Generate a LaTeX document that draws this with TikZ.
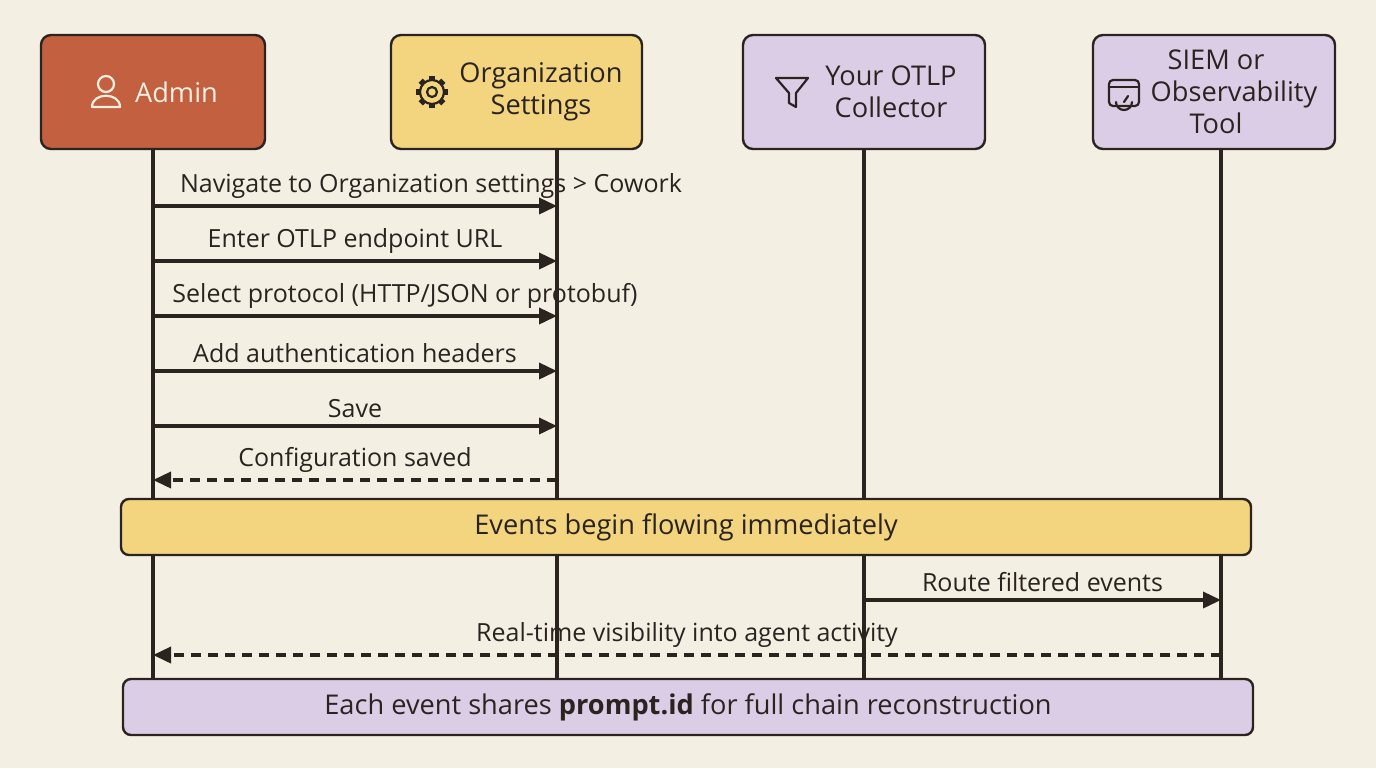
\documentclass[tikz,border=0pt]{standalone}
\usepackage{fontspec}
\setmainfont{Open Sans}
\usetikzlibrary{arrows.meta}
\definecolor{bgc}{HTML}{F3EFE3}
\definecolor{inkc}{HTML}{2B2320}
\definecolor{adminc}{HTML}{C2603F}
\definecolor{yelc}{HTML}{F2D57E}
\definecolor{purc}{HTML}{DCCDE6}
\tikzset{>={Triangle[length=9pt,width=8pt]}}
\tikzset{
  actor/.style={draw=inkc, line width=1.2pt, rounded corners=5pt, minimum width=#1, minimum height=57pt, align=center},
  life/.style={inkc, line width=1.8pt},
  msg/.style={->, inkc, line width=1.8pt},
  reply/.style={->, inkc, line width=1.8pt, dash pattern=on 5pt off 3.5pt},
  lbl/.style={above, font=\fontsize{12.5}{14}\selectfont, text=inkc, inner sep=3pt},
  band/.style={draw=inkc, line width=1.2pt, rounded corners=4pt, minimum width=565pt, minimum height=28pt, font=\fontsize{13.6}{15}\selectfont, text=inkc},
  ico/.style={inkc, line width=1.1pt, line join=round, line cap=round}
}
\begin{document}
\begin{tikzpicture}[x=0.5pt,y=-0.5pt]
  \fill[bgc] (0,0) rectangle (1376,768);
  \useasboundingbox (0,0) rectangle (1376,768);

  % Lifelines
  \foreach \x in {153,557,864,1221}
    \draw[life] (\x,149) -- (\x,680);

  % Actors
  \node[actor=112pt, fill=adminc] (admin) at (153,92) {};
  \node[actor=125.5pt, fill=yelc] (org) at (516.5,92) {};
  \node[actor=121pt, fill=purc] (coll) at (864,92) {};
  \node[actor=121pt, fill=purc] (siem) at (1214,92) {};

  \node[text=bgc, font=\fontsize{13.6}{15}\selectfont, anchor=west] (admintxt) at (128,92) {Admin};
  \node[align=center, font=\fontsize{13.6}{16}\selectfont, text=inkc] (orgtxt) at (541,92) {Organization\\Settings};
  \node[align=center, font=\fontsize{13.6}{16}\selectfont, text=inkc] (colltxt) at (891,92) {Your OTLP\\Collector};
  \node[align=center, font=\fontsize{13.6}{16}\selectfont, text=inkc] (siemtxt) at (1216,92) {SIEM or\\\hspace*{18pt}Observability\\Tool};

  % Icons
  \draw[ico, draw=bgc] (106,84) circle (8);
  \draw[ico, draw=bgc] (92,107) .. controls (92,92) and (120,92) .. (120,107) -- cycle;
  \draw[ico] (432,92) circle (5);
  \draw[ico] (432,92) circle (12);
  \foreach \a in {0,45,...,315}
    \draw[ico, line width=3pt, line cap=butt] (432,92) ++(\a:11) -- ++(\a:5);
  \draw[ico] (776,78) -- (808,78) -- (796,93) -- (796,107) -- (789,103) -- (789,93) -- cycle;
  \draw[ico, rounded corners=2pt] (1109,80) rectangle (1139,106);
  \draw[ico] (1109,87) -- (1139,87);
  \draw[ico] (1116,102) arc (180:0:8);
  \draw[ico] (1124,102) -- (1128,96);

  % Messages
  \draw[msg] (153,206) -- node[lbl, xshift=38pt] {Navigate to Organization settings > Cowork} (557,206);
  \draw[msg] (153,261) -- node[lbl] {Enter OTLP endpoint URL} (557,261);
  \draw[msg] (153,316) -- node[lbl, xshift=25pt] {Select protocol (HTTP/JSON or protobuf)} (557,316);
  \draw[msg] (153,371) -- node[lbl] {Add authentication headers} (557,371);
  \draw[msg] (153,426) -- node[lbl] {Save} (557,426);
  \draw[reply] (557,480) -- node[lbl] {Configuration saved} (153,480);

  \node[band, fill=yelc] (events) at (686,527) {Events begin flowing immediately};

  \draw[msg] (864,600) -- node[lbl] {Route filtered events} (1221,600);
  \draw[reply] (1221,655) -- node[lbl] {Real-time visibility into agent activity} (153,655);

  \node[band, fill=purc] (prompt) at (688,707) {Each event shares \textbf{prompt.id} for full chain reconstruction};
\end{tikzpicture}
\end{document}
